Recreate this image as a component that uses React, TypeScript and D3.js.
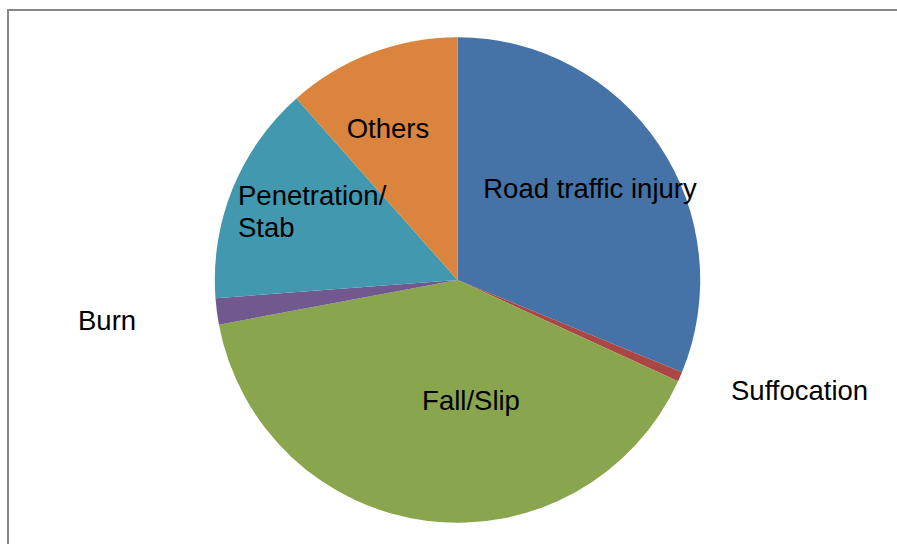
import React from "react";
import * as d3 from "d3";

const categories = ["Road traffic injury", "Suffocation", "Fall/Slip", "Burn", "Penetration/ Stab", "Others"];
const values = [31.2, 0.64, 40.2, 1.75, 14.64, 11.55];
const colors = ["#4572A7", "#AA4643", "#89A54E", "#71588F", "#4198AF", "#DB843D"];

// label layout (x, y of first baseline, anchor, lines)
const labelLayout = [
  { x: 590, y: 198, anchor: "middle", lines: ["Road traffic injury"] },
  { x: 731, y: 400, anchor: "start", lines: ["Suffocation"] },
  { x: 471, y: 410, anchor: "middle", lines: ["Fall/Slip"] },
  { x: 78, y: 330, anchor: "start", lines: ["Burn"] },
  { x: 238, y: 205, anchor: "start", lines: ["Penetration/", "Stab"] },
  { x: 388, y: 138, anchor: "middle", lines: ["Others"] },
];

export default function App() {
  const W = 897, H = 544;
  const cx = 457.5, cy = 280, r = 242.7;
  const pie = d3.pie<number>().sort(null).value((d) => d);
  const arcs = pie(values);
  const arcGen = d3.arc<d3.PieArcDatum<number>>().innerRadius(0).outerRadius(r);
  return (
    <svg width={W} height={H} style={{ position: "absolute", left: 0, top: 0, background: "#fff" }}
      fontFamily="'Liberation Sans', Arial, sans-serif">
      <rect x={0} y={0} width={W} height={H} fill="#fff" />
      <path d={`M8,${H} L8,10 L${W},10`} fill="none" stroke="#888" strokeWidth={2} />
      <g transform={`translate(${cx},${cy})`}>
        {arcs.map((a, i) => (
          <path key={categories[i]} d={arcGen(a) || ""} fill={colors[i]} />
        ))}
      </g>
      {labelLayout.map((l, i) => (
        <text key={i} x={l.x} y={l.y} textAnchor={l.anchor as any} fontSize={27.5} fill="#000">
          {l.lines.map((t, j) => (
            <tspan key={j} x={l.x} dy={j === 0 ? 0 : 32}>{t}</tspan>
          ))}
        </text>
      ))}
    </svg>
  );
}
